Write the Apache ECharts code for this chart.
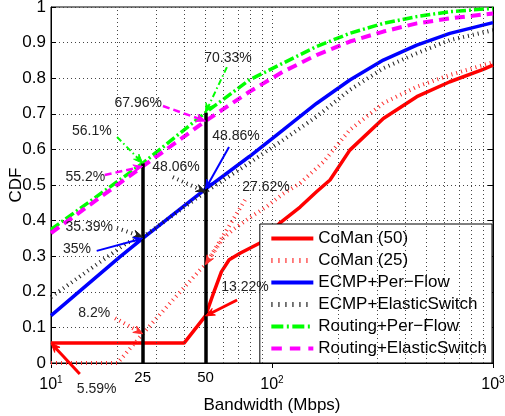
<!DOCTYPE html>
<html>
<head>
<meta charset="utf-8">
<script src="https://cdn.jsdelivr.net/npm/echarts@6/dist/echarts.min.js"></script>
<style>
html, body { margin: 0; padding: 0; background: #fff; }
#chart { width: 505px; height: 416px; }
</style>
</head>
<body>
<div id="chart"></div>
<script>
// bandwidth (Mbps) -> CDF
const comanFifty = [[10, 0.0559], [40, 0.0559], [50, 0.1322], [55, 0.205], [59, 0.256], [64, 0.29],
	[72, 0.309], [90, 0.34], [108, 0.392], [134, 0.438], [159, 0.481], [183, 0.514], [225, 0.598],
	[319, 0.687], [452, 0.748], [638, 0.79], [903, 0.825], [1000, 0.837]];
const comanTwentyFive = [[10, 0], [20, 0], [26, 0.082], [35.6, 0.177], [47, 0.26], [50, 0.2762],
	[60, 0.35], [66.5, 0.374], [80, 0.41], [94.5, 0.439], [112, 0.475], [134, 0.505], [171, 0.565],
	[225, 0.655], [319, 0.73], [452, 0.776], [638, 0.809], [1000, 0.845]];
const ecmpPerFlow = [[10, 0.133], [20.5, 0.298], [26, 0.35], [50, 0.4886], [79, 0.58], [112, 0.654],
	[159, 0.729], [225, 0.795], [319, 0.851], [452, 0.893], [638, 0.926], [1000, 0.956]];
const ecmpElastic = [[10, 0.185], [22, 0.337], [26, 0.3539], [50, 0.4806], [79, 0.562], [112, 0.626],
	[159, 0.692], [225, 0.767], [319, 0.828], [452, 0.87], [638, 0.907], [1000, 0.935]];
const routingPerFlow = [[10, 0.375], [26, 0.561], [50, 0.7033], [79, 0.795], [112, 0.842], [159, 0.889],
	[225, 0.926], [319, 0.954], [452, 0.973], [638, 0.987], [1000, 0.996]];
const routingElastic = [[10, 0.365], [26, 0.552], [50, 0.6796], [79, 0.762], [112, 0.818], [159, 0.865],
	[225, 0.903], [319, 0.931], [452, 0.954], [638, 0.968], [1000, 0.982]];

const names = ["CoMan (50)", "CoMan (25)", "ECMP+Per\u2212Flow", "ECMP+ElasticSwitch",
	"Routing+Per\u2212Flow", "Routing+ElasticSwitch"];
const curves = [comanFifty, comanTwentyFive, ecmpPerFlow, ecmpElastic, routingPerFlow, routingElastic];

// the two black marker lines (tick text, where they sit, how high they go)
const refTicks = ["25", "50"];
const refBw = [26, 50];
const refTop = [0.561, 0.7033];

// minor vertical grid
const minorX = [20, 30, 40, 50, 60, 70, 80, 90, 200, 300, 400, 500, 600, 700, 800, 900];

// callouts: series index, text, text anchor, arrow tail, arrow head
const notes = [
	[4, "70.33%", [63.2, 0.857], [62.5, 0.831], [50, 0.7033]],
	[5, "67.96%", [24.8, 0.730], [32.1, 0.722], [50, 0.6796]],
	[2, "48.86%", [68.7, 0.638], [63.9, 0.607], [50, 0.4886]],
	[3, "48.06%", [36.8, 0.551], [35.6, 0.522], [50, 0.4806]],
	[4, "56.1%", [15.3, 0.652], [19.9, 0.635], [26, 0.561]],
	[5, "55.2%", [14.3, 0.522], [17.5, 0.528], [26, 0.552]],
	[1, "27.62%", [93.9, 0.494], [75.5, 0.458], [50, 0.2762]],
	[3, "35.39%", [14.9, 0.382], [19.9, 0.379], [26, 0.3539]],
	[2, "35%", [13.1, 0.320], [16.1, 0.315], [26, 0.35]],
	[1, "8.2%", [15.7, 0.140], [19.5, 0.126], [26, 0.082]],
	[0, "13.22%", [75.5, 0.213], [69.5, 0.177], [50, 0.1322]],
	[0, "5.59%", [16.1, -0.073], [13.5, -0.031], [10, 0.0559]],
];

const font = "'Liberation Sans', Arial, Helvetica, sans-serif";
const dotted = { color: "#444", width: 1, type: [1, 3] };

// plot style, legend sample style, callout arrow style
const looks = [
	{ color: "#ff0000", width: 3.5, type: "solid", key: [4, "solid"], arrow: [3, null] },
	{ color: "#ff3030", width: 4, type: [1, 4], key: [5, [1.2, 5.8]], arrow: [4, [1, 4]] },
	{ color: "#0000ff", width: 3.5, type: "solid", key: [4, "solid"], arrow: [2, null] },
	{ color: "#222222", width: 4, type: [1, 4], key: [5, [1.2, 5.8]], arrow: [4, [1, 4]] },
	{ color: "#00ff00", width: 3.5, type: [10, 3, 2, 3], key: [4, [12, 3.5, 2, 3.5]], arrow: [2, [6, 3, 1.5, 3]] },
	{ color: "#ff00ff", width: 4, type: [10, 6], key: [4, [10.5, 8]], arrow: [2.5, [7, 4]] },
];

let chart = echarts.init(document.getElementById("chart"), null, { width: 505, height: 416 });

let series = [];

series.push({
	name: "minorGrid",
	type: "line",
	data: [],
	silent: true,
	z: 1,
	markLine: {
		silent: true,
		symbol: "none",
		label: { show: false },
		lineStyle: dotted,
		emphasis: { disabled: true },
		data: minorX.map((v) => ({ xAxis: v })),
	},
});

curves.forEach((pts, i) => {
	const lk = looks[i];
	series.push({
		name: names[i],
		type: "line",
		data: pts,
		symbol: "none",
		clip: false,
		z: 3 + i * 0.01,
		color: lk.color,
		lineStyle: { color: lk.color, width: lk.width, type: lk.type, cap: "butt" },
		emphasis: { disabled: true },
	});
});

series.push({
	name: "refs",
	type: "line",
	data: [],
	silent: true,
	clip: false,
	z: 4,
	markLine: {
		silent: true,
		symbol: "none",
		emphasis: { disabled: true },
		lineStyle: { color: "#000", width: 3.5, type: "solid" },
		label: {
			show: true,
			position: "start",
			distance: 7,
			formatter: "{b}",
			fontSize: 15,
			fontFamily: font,
			color: "#000",
		},
		data: refBw.map((x, k) => [{ coord: [x, 0], name: refTicks[k] }, { coord: [x, refTop[k]] }]),
	},
});

// arrows with MATLAB-like swept heads, plus their text
function renderNote(params, api) {
	const note = notes[params.dataIndex];
	const lk = looks[note[0]];
	const a = api.coord([api.value(0), api.value(1)]);
	const b = api.coord([api.value(2), api.value(3)]);
	const t = api.coord([api.value(4), api.value(5)]);
	const ang = Math.atan2(b[1] - a[1], b[0] - a[0]);
	const hl = 10, spread = 0.38;
	const h1 = [b[0] - hl * Math.cos(ang - spread), b[1] - hl * Math.sin(ang - spread)];
	const h2 = [b[0] - hl * Math.cos(ang + spread), b[1] - hl * Math.sin(ang + spread)];
	const back = [b[0] - hl * 0.6 * Math.cos(ang), b[1] - hl * 0.6 * Math.sin(ang)];
	return {
		type: "group",
		children: [
			{
				type: "line",
				shape: { x1: a[0], y1: a[1], x2: back[0], y2: back[1] },
				style: { stroke: lk.color, lineWidth: lk.arrow[0], lineDash: lk.arrow[1], fill: null },
			},
			{
				type: "polygon",
				shape: { points: [b, h1, back, h2] },
				style: { fill: lk.color, stroke: lk.color, lineWidth: 1 },
			},
			{
				type: "text",
				x: t[0],
				y: t[1],
				style: {
					text: note[1],
					fill: "#222",
					font: "14px " + font,
					align: "center",
					verticalAlign: "middle",
				},
			},
		],
	};
}

series.push({
	name: "callouts",
	type: "custom",
	silent: true,
	clip: false,
	z: 6,
	data: notes.map((n) => [n[3][0], n[3][1], n[4][0], n[4][1], n[2][0], n[2][1]]),
	encode: { x: [0, 2, 4], y: [1, 3, 5] },
	renderItem: renderNote,
});

let option = {
	animation: false,
	backgroundColor: "#fff",
	textStyle: { fontFamily: font },
	grid: {
		left: 51,
		right: 12,
		top: 7,
		bottom: 53,
		containLabel: false,
		outerBoundsMode: "none",
		show: true,
		borderColor: "#000",
		borderWidth: 1,
		backgroundColor: "#fff",
	},
	legend: {
		data: names.map((n, i) => ({
			name: n,
			lineStyle: { width: looks[i].key[0], type: looks[i].key[1], cap: "butt" },
		})),
		orient: "vertical",
		right: 13,
		bottom: 53,
		padding: [6, 5, 6, 9],
		itemGap: 5,
		itemWidth: 42,
		itemHeight: 14,
		selectedMode: false,
		backgroundColor: "#fff",
		borderColor: "#000",
		borderWidth: 1,
		itemStyle: { opacity: 0 },
		textStyle: { fontSize: 17, lineHeight: 17, color: "#000", fontFamily: font },
	},
	xAxis: [
		{
			type: "log",
			logBase: 10,
			min: 10,
			max: 1000,
			axisLine: { lineStyle: { color: "#000" } },
			axisTick: { inside: true, length: 5, lineStyle: { color: "#000" } },
			splitLine: { show: true, lineStyle: dotted },
			axisLabel: {
				margin: 12,
				color: "#000",
				formatter: (v) => "{b|10}{s|" + Math.round(Math.log10(v)) + "}",
				rich: {
					b: { fontSize: 16, lineHeight: 20, fontFamily: font, color: "#000" },
					s: { fontSize: 10, lineHeight: 12, verticalAlign: "top", fontFamily: font, color: "#000" },
				},
			},
			name: "Bandwidth (Mbps)",
			nameLocation: "middle",
			nameGap: 34,
			nameMoveOverlap: false,
			nameTextStyle: { fontSize: 17, color: "#000", fontFamily: font },
		},
		{
			type: "log",
			logBase: 10,
			min: 10,
			max: 1000,
			position: "top",
			axisLine: { lineStyle: { color: "#000" } },
			axisTick: { inside: true, length: 5, lineStyle: { color: "#000" } },
			axisLabel: { show: false },
			splitLine: { show: false },
		},
	],
	yAxis: [
		{
			type: "value",
			min: 0,
			max: 1,
			interval: 0.1,
			axisLine: { show: true, lineStyle: { color: "#000" } },
			axisTick: { show: true, inside: true, length: 5, lineStyle: { color: "#000" } },
			splitLine: { show: true, lineStyle: dotted },
			axisLabel: {
				margin: 5,
				fontSize: 17,
				color: "#000",
				fontFamily: font,
				formatter: (v) => String(Math.round(v * 10) / 10),
			},
			name: "CDF",
			nameLocation: "middle",
			nameGap: 26,
			nameRotate: 90,
			nameMoveOverlap: false,
			nameTextStyle: { fontSize: 17, color: "#000", fontFamily: font },
		},
		{
			type: "value",
			min: 0,
			max: 1,
			interval: 0.1,
			position: "right",
			axisLine: { show: true, lineStyle: { color: "#000" } },
			axisTick: { show: true, inside: true, length: 5, lineStyle: { color: "#000" } },
			axisLabel: { show: false },
			splitLine: { show: false },
		},
	],
	series: series,
};

chart.setOption(option);
</script>
</body>
</html>
